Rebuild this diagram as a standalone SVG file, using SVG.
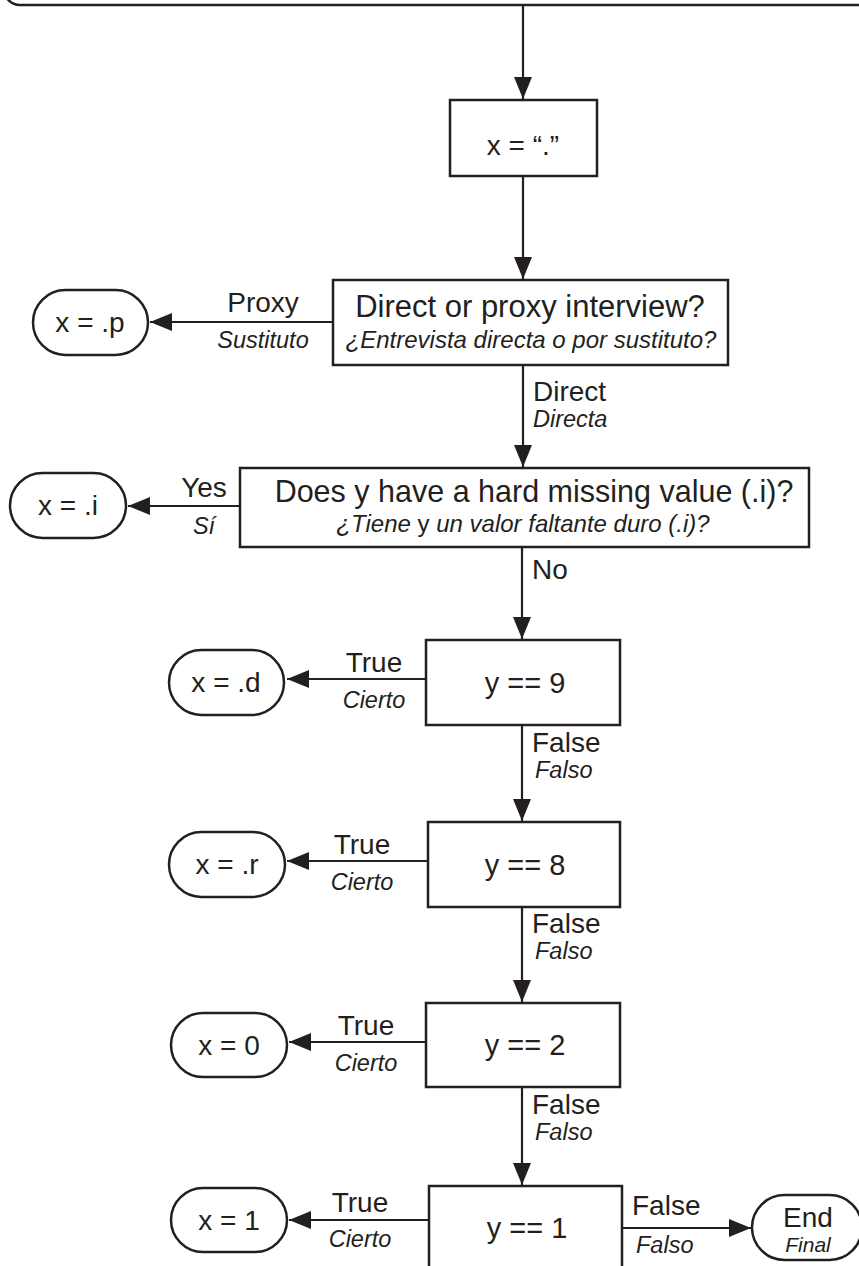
<svg xmlns="http://www.w3.org/2000/svg" width="859" height="1266" viewBox="0 0 859 1266">
<style>
.box{fill:#fff;stroke:#231f20;stroke-width:2.5}
.ln{fill:none;stroke:#231f20;stroke-width:2.2}
text{font-family:"Liberation Sans",Arial,sans-serif;fill:#231f20}
.m{font-size:28px}
.b{font-size:29px}
.s{font-size:23.5px;font-style:italic}
.c{text-anchor:middle}
</style>
<defs>
<marker id="ah" markerUnits="userSpaceOnUse" markerWidth="24" markerHeight="20" refX="22" refY="9" orient="auto">
<path d="M0,0 L22,9 L0,18 Z" fill="#231f20"/>
</marker>
</defs>
<g id="top"><rect class="box" x="4" y="-70" width="900" height="75" rx="16"/></g>
<g id="connectors">
<line class="ln" x1="523" y1="6" x2="523" y2="99" marker-end="url(#ah)"/>
<line class="ln" x1="523" y1="176" x2="523" y2="279" marker-end="url(#ah)"/>
<line class="ln" x1="333" y1="322" x2="150" y2="322" marker-end="url(#ah)"/>
<line class="ln" x1="523" y1="365" x2="523" y2="467" marker-end="url(#ah)"/>
<line class="ln" x1="240" y1="506" x2="128" y2="506" marker-end="url(#ah)"/>
<line class="ln" x1="522" y1="547" x2="522" y2="639" marker-end="url(#ah)"/>
<line class="ln" x1="426" y1="679" x2="287" y2="679" marker-end="url(#ah)"/>
<line class="ln" x1="522" y1="725" x2="522" y2="821" marker-end="url(#ah)"/>
<line class="ln" x1="428" y1="861" x2="287" y2="861" marker-end="url(#ah)"/>
<line class="ln" x1="522" y1="907" x2="522" y2="1002" marker-end="url(#ah)"/>
<line class="ln" x1="426" y1="1042" x2="289" y2="1042" marker-end="url(#ah)"/>
<line class="ln" x1="522" y1="1087" x2="522" y2="1185" marker-end="url(#ah)"/>
<line class="ln" x1="429" y1="1220" x2="289" y2="1220" marker-end="url(#ah)"/>
<line class="ln" x1="622" y1="1228" x2="751" y2="1228" marker-end="url(#ah)"/>
<text class="m c" x="263" y="312">Proxy</text>
<text class="s c" x="263" y="348">Sustituto</text>
<text class="m" x="533" y="401">Direct</text>
<text class="s" x="533" y="427">Directa</text>
<text class="m c" x="204" y="497">Yes</text>
<text class="s c" x="204" y="534">Sí</text>
<text class="m" x="532" y="579">No</text>
<text class="m c" x="374" y="672">True</text>
<text class="s c" x="374" y="708">Cierto</text>
<text class="m" x="532" y="752">False</text>
<text class="s" x="535" y="778">Falso</text>
<text class="m c" x="362" y="854">True</text>
<text class="s c" x="362" y="890">Cierto</text>
<text class="m" x="532" y="933">False</text>
<text class="s" x="535" y="959">Falso</text>
<text class="m c" x="366" y="1035">True</text>
<text class="s c" x="366" y="1071">Cierto</text>
<text class="m" x="532" y="1114">False</text>
<text class="s" x="535" y="1140">Falso</text>
<text class="m c" x="360" y="1212">True</text>
<text class="s c" x="360" y="1247">Cierto</text>
<text class="m" x="632" y="1215">False</text>
<text class="s" x="636" y="1253">Falso</text>
</g>
<g id="n_init"><rect class="box" x="450" y="100" width="147" height="76"/><text class="m c" x="523" y="155">x = “.”</text></g>
<g id="n_direct"><rect class="box" x="333" y="280" width="395" height="85"/>
<text class="c" x="530" y="317" style="font-size:31px">Direct or proxy interview?</text>
<text class="s c" x="531" y="348" style="font-size:24px">¿Entrevista directa o por sustituto?</text></g>
<g id="n_p"><rect class="box" x="33" y="290" width="115" height="65" rx="32.5"/><text class="m c" x="90" y="332">x = .p</text></g>
<g id="n_hard"><rect class="box" x="240" y="468" width="569" height="79"/>
<text class="c" x="534" y="502" style="font-size:30.5px">Does y have a hard missing value (.i)?</text>
<text class="s c" x="523" y="532" style="font-size:24px">¿Tiene <tspan font-style="normal">y</tspan> un valor faltante duro (.i)?</text></g>
<g id="n_i"><rect class="box" x="10" y="473" width="116" height="65" rx="32.5"/><text class="m c" x="68" y="515">x = .i</text></g>
<g id="n_y9"><rect class="box" x="426" y="640" width="194" height="85"/><text class="b c" x="525" y="693">y == 9</text></g>
<g id="n_d"><rect class="box" x="169" y="650" width="115" height="65" rx="32.5"/><text class="m c" x="226" y="692">x = .d</text></g>
<g id="n_y8"><rect class="box" x="428" y="822" width="192" height="85"/><text class="b c" x="525" y="875">y == 8</text></g>
<g id="n_r"><rect class="box" x="169" y="832" width="116" height="65" rx="32.5"/><text class="m c" x="227" y="874">x = .r</text></g>
<g id="n_y2"><rect class="box" x="426" y="1003" width="194" height="84"/><text class="b c" x="525" y="1055">y == 2</text></g>
<g id="n_0"><rect class="box" x="171" y="1013" width="116" height="64" rx="32"/><text class="m c" x="229" y="1055">x = 0</text></g>
<g id="n_y1"><rect class="box" x="429" y="1186" width="193" height="100"/><text class="b c" x="527" y="1238">y == 1</text></g>
<g id="n_1"><rect class="box" x="171" y="1188" width="116" height="64" rx="32"/><text class="m c" x="229" y="1230">x = 1</text></g>
<g id="n_end"><rect class="box" x="752" y="1195" width="110" height="65" rx="32.5"/><text class="m c" x="808" y="1227">End</text><text class="s c" x="808" y="1252" style="font-size:21px">Final</text></g>
</svg>
